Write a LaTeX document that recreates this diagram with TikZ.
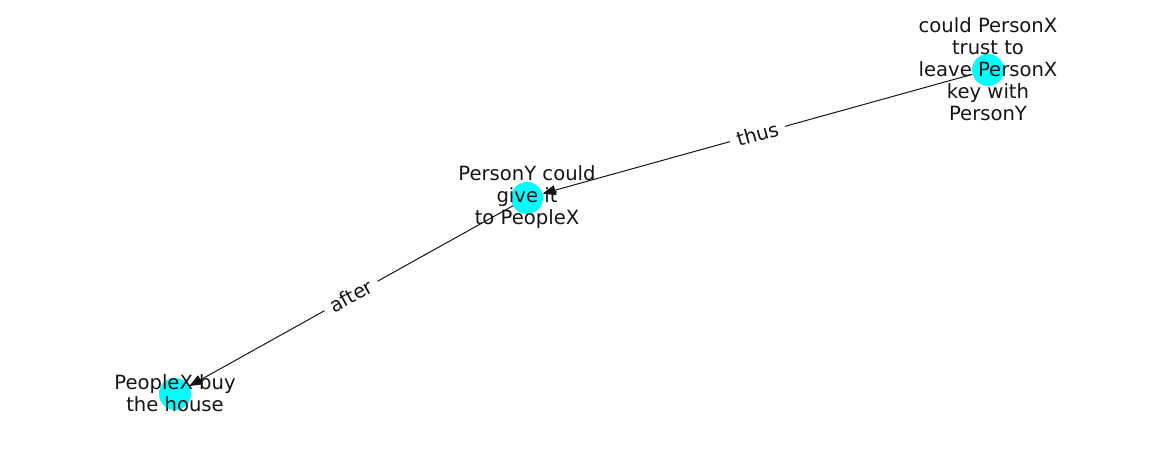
\documentclass[tikz,border=0pt]{standalone}
\usepackage{fontspec}
\setmainfont{DejaVu Sans}
\usetikzlibrary{arrows.meta}
\definecolor{nodecyan}{RGB}{0,255,255}
\definecolor{txt}{RGB}{20,20,20}
\tikzset{
  dot/.style={circle, fill=nodecyan, draw=none, minimum size=32pt, inner sep=0pt},
  lbl/.style={align=center, text=txt, font=\fontsize{19.6}{22}\selectfont, inner sep=0pt},
  edge/.style={draw=txt, line width=1pt, -{Triangle[length=13pt,width=10pt]}},
  elbl/.style={sloped, fill=white, text=txt, font=\fontsize{19.6}{22}\selectfont, inner xsep=7pt, inner ysep=3pt}
}
\begin{document}
\begin{tikzpicture}[x=1pt,y=1pt]
\useasboundingbox (0,0) rectangle (1162,462);
\node[dot] (a) at (988,392) {};
\node[dot] (b) at (527,264) {};
\node[dot] (c) at (175,68) {};
\draw[edge] (a) -- node[elbl] {thus} (b);
\draw[edge] (b) -- node[elbl] {after} (c);
\node[lbl] (ta) at (988,393) {could PersonX\\trust to\\leave PersonX\\key with\\PersonY};
\node[lbl] (tb) at (527,265) {PersonY could\\give it\\to PeopleX};
\node[lbl] (tc) at (175,69) {PeopleX buy\\the house};
\end{tikzpicture}
\end{document}
